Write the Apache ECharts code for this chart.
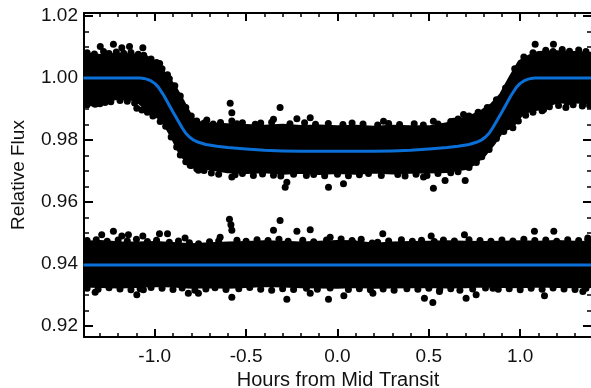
<!DOCTYPE html>
<html>
<head>
<meta charset="utf-8">
<script src="https://cdn.jsdelivr.net/npm/echarts@6/dist/echarts.min.js"></script>
<style>
  html, body { margin: 0; padding: 0; background: #fff; }
  #chart { width: 591px; height: 388px; }
</style>
</head>
<body>
<div id="chart"></div>
<script>
// transit model
var modelT = [-1.39, -1.08, -1.06, -1.04, -1.02, -1.00, -0.98, -0.95, -0.90, -0.85, -0.83, -0.81, -0.79, -0.76, -0.72, -0.66, -0.60, -0.50, -0.40, -0.30, -0.20, -0.10,
              0.00, 0.10, 0.20, 0.30, 0.40, 0.50, 0.60, 0.66, 0.72, 0.76, 0.79, 0.81, 0.83, 0.85, 0.90, 0.95, 0.98, 1.00, 1.02, 1.04, 1.06, 1.08, 1.39];
var modelFlux = [1.0000, 1.0000, 0.9999, 0.9996, 0.9991, 0.9983, 0.9971, 0.9944, 0.9891, 0.9840, 0.9822, 0.9810, 0.9801, 0.9793, 0.9786, 0.9780, 0.9776, 0.9771, 0.9767, 0.9765, 0.9764, 0.9764,
                 0.9764, 0.9764, 0.9764, 0.9765, 0.9767, 0.9771, 0.9776, 0.9780, 0.9786, 0.9793, 0.9801, 0.9810, 0.9822, 0.9840, 0.9891, 0.9944, 0.9971, 0.9983, 0.9991, 0.9996, 0.9999, 1.0000, 1.0000];

// residual model line
var residT = [-1.39, 1.39];
var residFlux = [0.9397, 0.9397];

// envelope of the dense light-curve cloud
var cloudT = [-1.39, -1.30, -1.20, -1.10, -1.05, -1.00, -0.95, -0.90, -0.85, -0.80, -0.75, -0.70, -0.60, -0.50, -0.40, -0.30, -0.20, -0.10,
              0.00, 0.10, 0.20, 0.30, 0.40, 0.50, 0.60, 0.70, 0.75, 0.80, 0.85, 0.90, 0.95, 1.00, 1.05, 1.10, 1.20, 1.30, 1.39];
var cloudHi = [1.0075, 1.0068, 1.0072, 1.0070, 1.0065, 1.0044, 1.0011, 0.9973, 0.9921, 0.9866, 0.9850, 0.9847, 0.9845, 0.9842, 0.9840, 0.9843, 0.9839, 0.9841,
               0.9838, 0.9840, 0.9837, 0.9840, 0.9838, 0.9838, 0.9848, 0.9866, 0.9877, 0.9892, 0.9912, 0.9944, 0.9998, 1.0049, 1.0066, 1.0078, 1.0080, 1.0078, 1.0075];
var cloudLo = [0.9925, 0.9930, 0.9940, 0.9935, 0.9908, 0.9887, 0.9865, 0.9814, 0.9754, 0.9728, 0.9716, 0.9712, 0.9703, 0.9700, 0.9703, 0.9698, 0.9701, 0.9697,
               0.9700, 0.9698, 0.9702, 0.9699, 0.9701, 0.9702, 0.9704, 0.9713, 0.9730, 0.9756, 0.9792, 0.9835, 0.9846, 0.9884, 0.9900, 0.9905, 0.9928, 0.9928, 0.9925];

// envelope of the dense residual cloud
var resT = [-1.39, -1.30, -1.20, -1.10, -1.00, -0.90, -0.80, -0.70, -0.60, -0.50, -0.40, -0.30, -0.20, -0.10,
            0.00, 0.10, 0.20, 0.30, 0.40, 0.50, 0.60, 0.70, 0.80, 0.90, 1.00, 1.10, 1.20, 1.30, 1.39];
var resHi = [0.9466, 0.9468, 0.9464, 0.9463, 0.9465, 0.9462, 0.9458, 0.9461, 0.9463, 0.9465, 0.9467, 0.9466, 0.9463, 0.9466,
             0.9468, 0.9467, 0.9459, 0.9463, 0.9465, 0.9466, 0.9467, 0.9466, 0.9465, 0.9466, 0.9467, 0.9466, 0.9468, 0.9466, 0.9465];
var resLo = [0.9334, 0.9333, 0.9331, 0.9333, 0.9336, 0.9334, 0.9330, 0.9332, 0.9330, 0.9333, 0.9336, 0.9334, 0.9332, 0.9331,
             0.9330, 0.9333, 0.9330, 0.9331, 0.9332, 0.9333, 0.9331, 0.9332, 0.9334, 0.9333, 0.9332, 0.9334, 0.9333, 0.9332, 0.9333];

// dots sitting on the rim of the light-curve cloud
var edgeT = [-1.37, -1.33, -1.28, -1.25, -1.21, -1.17, -1.13, -1.09, -1.06, -1.02, -0.99, -0.96, -0.92, -0.89, -0.86, -0.83, -0.80, -0.77,
             -0.73, -0.68, -0.64, -0.55, -0.52, -0.45, -0.42, -0.36, -0.26, -0.18, -0.12, -0.05, 0.03, 0.08, 0.14, 0.22, 0.28, 0.34, 0.42, 0.47, 0.55, 0.62,
             0.66, 0.72, 0.77, 0.82, 0.87, 0.92, 0.97, 1.02, 1.07, 1.14, 1.18, 1.23, 1.27, 1.32, 1.36,
             -1.37, -1.34, -1.30, -1.24, -1.19, -1.15, -1.11, -1.07, -1.04, -1.01, -0.97, -0.94, -0.91, -0.88, -0.86, -0.83, -0.80, -0.77,
             -0.73, -0.69, -0.65, -0.56, -0.52, -0.46, -0.41, -0.35, -0.31, -0.24, -0.17, -0.13, -0.07, 0.00, 0.06, 0.12, 0.17, 0.24, 0.33, 0.37, 0.43, 0.49, 0.55, 0.62, 0.66,
             0.72, 0.76, 0.79, 0.83, 0.87, 0.91, 0.96, 0.99, 1.03, 1.07, 1.12, 1.16, 1.21, 1.25, 1.29, 1.34, 1.38];
var edgeFlux = [1.0082, 1.0078, 1.0086, 1.0079, 1.0084, 1.0080, 1.0083, 1.0077, 1.0074, 1.0062, 1.0050, 1.0030, 0.9998, 0.9975, 0.9942, 0.9905, 0.9878, 0.9862,
                0.9855, 0.9852, 0.9857, 0.9853, 0.9856, 0.9851, 0.9855, 0.9858, 0.9853, 0.9856, 0.9851, 0.9854, 0.9850, 0.9855, 0.9852, 0.9849, 0.9854, 0.9850, 0.9853, 0.9849, 0.9852, 0.9860,
                0.9868, 0.9878, 0.9890, 0.9905, 0.9930, 0.9968, 1.0030, 1.0068, 1.0082, 1.0090, 1.0086, 1.0092, 1.0087, 1.0091, 1.0086,
                0.9914, 0.9920, 0.9917, 0.9924, 0.9928, 0.9925, 0.9920, 0.9897, 0.9890, 0.9878, 0.9860, 0.9845, 0.9810, 0.9778, 0.9752, 0.9730, 0.9718, 0.9708,
                0.9702, 0.9694, 0.9690, 0.9688, 0.9692, 0.9686, 0.9691, 0.9687, 0.9684, 0.9690, 0.9686, 0.9689, 0.9685, 0.9690, 0.9685, 0.9688, 0.9692, 0.9686, 0.9689, 0.9684, 0.9690, 0.9686, 0.9692, 0.9695, 0.9698,
                0.9712, 0.9728, 0.9746, 0.9770, 0.9805, 0.9828, 0.9840, 0.9862, 0.9880, 0.9890, 0.9895, 0.9908, 0.9912, 0.9905, 0.9914, 0.9910, 0.9912];

// dots sitting on the rim of the residual cloud
var resEdgeT = [-1.37, -1.32, -1.26, -1.20, -1.15, -1.10, -1.04, -0.99, -0.92, -0.87, -0.81, -0.76, -0.70, -0.65, -0.55, -0.50, -0.44, -0.38, -0.32, -0.27,
                -0.19, -0.13, -0.06, 0.02, 0.08, 0.13, 0.19, 0.22, 0.28, 0.35, 0.41, 0.46, 0.53, 0.58, 0.64, 0.72, 0.78, 0.84, 0.90, 0.96, 1.02, 1.08, 1.14, 1.20, 1.26, 1.32, 1.37,
                -1.37, -1.31, -1.25, -1.19, -1.13, -1.08, -1.02, -0.96, -0.90, -0.85, -0.78, -0.72, -0.67, -0.61, -0.54, -0.48, -0.42, -0.36, -0.30, -0.24, -0.17, -0.11, -0.04,
                0.06, 0.12, 0.18, 0.25, 0.31, 0.38, 0.44, 0.50, 0.56, 0.62, 0.67, 0.74, 0.81, 0.88, 0.94, 1.00, 1.06, 1.12, 1.18, 1.24, 1.30, 1.36];
var resEdgeFlux = [0.9476, 0.9479, 0.9474, 0.9478, 0.9475, 0.9480, 0.9473, 0.9477, 0.9471, 0.9475, 0.9469, 0.9466, 0.9472, 0.9475, 0.9477, 0.9474, 0.9479, 0.9476, 0.9480, 0.9474,
                   0.9477, 0.9472, 0.9478, 0.9481, 0.9476, 0.9480, 0.9468, 0.9471, 0.9475, 0.9479, 0.9474, 0.9477, 0.9473, 0.9478, 0.9475, 0.9479, 0.9476, 0.9474, 0.9478, 0.9475, 0.9480, 0.9476, 0.9478, 0.9474, 0.9479, 0.9476, 0.9478,
                   0.9322, 0.9319, 0.9324, 0.9320, 0.9317, 0.9321, 0.9325, 0.9322, 0.9318, 0.9323, 0.9316, 0.9320, 0.9324, 0.9318, 0.9321, 0.9325, 0.9319, 0.9316, 0.9321, 0.9318, 0.9322, 0.9319, 0.9323,
                   0.9318, 0.9321, 0.9317, 0.9320, 0.9316, 0.9321, 0.9319, 0.9322, 0.9318, 0.9321, 0.9316, 0.9320, 0.9323, 0.9319, 0.9321, 0.9317, 0.9322, 0.9319, 0.9323, 0.9320, 0.9318, 0.9322];

// isolated points outside the dense clouds
var outT = [-1.298, -1.226, -1.180, -1.138, -1.065, -0.973, -0.930, -1.326, -1.272, -1.098, -0.587, -0.578, -0.578, -0.715, -0.578, -0.806, -0.761,
            -0.314, -0.350, -0.222, -0.149, 0.252, -0.286, -0.277, -0.049, 0.033, 1.082, 1.182, 1.256, 1.128, 1.343, 0.525, 0.589, 0.699, 0.471,
            0.690, 0.525, 0.635];
var outFlux = [1.0102, 1.0109, 1.0098, 1.0102, 1.0098, 1.0047, 1.0011, 0.9916, 0.9921, 0.9903, 0.9919, 0.9888, 0.9862, 0.9865, 0.9681, 0.9719, 0.9703,
               0.9905, 0.9867, 0.9869, 0.9872, 0.9861, 0.9648, 0.9664, 0.9648, 0.9659, 1.0109, 1.0109, 0.9921, 0.9899, 0.9916, 0.9645, 0.9670, 0.9670, 0.9681,
               0.9883, 0.9861, 0.9861];

var resOutT = [-1.290, -1.226, -1.180, -1.144, -1.065, -0.974, -0.930, -0.834, -0.642, -0.591, -0.583, -0.578, -0.314, -0.350, -0.222, -0.149, -0.040,
               -1.326, -1.098, -1.062, -0.816, -0.761, -0.578, -0.277, -0.149, -0.049,
               0.248, 0.695, 1.078, 1.184, 0.513, 1.370,
               0.035, 0.476, 0.522, 0.558, 0.704, 0.759, 1.133, 1.343, 0.194, 0.851];
var resOutFlux = [0.9495, 0.9506, 0.9491, 0.9495, 0.9491, 0.9498, 0.9498, 0.9484, 0.9487, 0.9545, 0.9527, 0.9509, 0.9541, 0.9509, 0.9506, 0.9511, 0.9487,
                  0.9309, 0.9301, 0.9317, 0.9306, 0.9306, 0.9293, 0.9287, 0.9306, 0.9287,
                  0.9498, 0.9495, 0.9506, 0.9506, 0.9491, 0.9484,
                  0.9298, 0.9290, 0.9276, 0.9312, 0.9290, 0.9301, 0.9298, 0.9312, 0.9306, 0.9322];

function pairs(xs, ys) {
  return xs.map(function (x, i) { return [x, ys[i]]; });
}

function band(xs, lo, hi) {
  var rows = xs.map(function (x, i) { return [x, lo[i], hi[i]]; });
  return {
    type: 'custom',
    silent: true,
    clip: true,
    z: 1,
    data: rows,
    encode: { x: 0, y: [1, 2] },
    renderItem: function (params, api) {
      if (params.dataIndex !== 0) { return null; }
      var pts = [];
      for (var i = 0; i < rows.length; i++) { pts.push(api.coord([rows[i][0], rows[i][2]])); }
      for (var j = rows.length - 1; j >= 0; j--) { pts.push(api.coord([rows[j][0], rows[j][1]])); }
      return {
        type: 'polygon',
        shape: { points: pts },
        style: { fill: '#000', stroke: '#000', lineWidth: 6, lineJoin: 'round' }
      };
    }
  };
}

function dots(xs, ys) {
  return {
    type: 'scatter', symbol: 'circle', symbolSize: 7, z: 2, clip: true, silent: true,
    itemStyle: { color: '#000', opacity: 1 },
    data: pairs(xs, ys)
  };
}

var font = 'Liberation Sans, Arial, Helvetica, sans-serif';

function xAx(pos, labels) {
  return {
    type: 'value', position: pos, min: -1.387, max: 1.393, splitNumber: 5,
    name: labels ? 'Hours from Mid Transit' : '', nameLocation: 'middle', nameGap: 30,
    nameTextStyle: { color: '#111', fontSize: 20, fontFamily: font },
    axisLine: { show: true, onZero: false, lineStyle: { color: '#000', width: 2 } },
    axisTick: { show: true, inside: true, length: 8, lineStyle: { color: '#000', width: 2 } },
    minorTick: { show: true, splitNumber: 5, length: 4, lineStyle: { color: '#000', width: 1.5 } },
    splitLine: { show: false },
    axisLabel: { show: labels, showMinLabel: false, showMaxLabel: false, margin: 10, color: '#111', fontSize: 19, fontFamily: font,
                 formatter: function (v) { return v.toFixed(1); } }
  };
}

function yAx(pos, labels) {
  return {
    type: 'value', position: pos, min: 0.9165, max: 1.021, splitNumber: 5,
    name: labels ? 'Relative Flux' : '', nameLocation: 'middle', nameGap: 56,
    nameTextStyle: { color: '#111', fontSize: 19, fontFamily: font },
    axisLine: { show: true, onZero: false, lineStyle: { color: '#000', width: 2 } },
    axisTick: { show: true, inside: true, length: 9, lineStyle: { color: '#000', width: 2 } },
    minorTick: { show: true, splitNumber: 4, length: 5, lineStyle: { color: '#000', width: 1.5 } },
    splitLine: { show: false },
    axisLabel: { show: labels, showMinLabel: false, showMaxLabel: false, margin: 6, color: '#111', fontSize: 19, fontFamily: font,
                 formatter: function (v) { return v.toFixed(2); } }
  };
}

var chart = echarts.init(document.getElementById('chart'), null, { renderer: 'canvas' });
chart.setOption({
  animation: false,
  backgroundColor: '#fff',
  grid: { left: 84, right: -1, top: 13, bottom: 51, containLabel: false, outerBoundsMode: 'none' },
  xAxis: [xAx('bottom', true), xAx('top', false)],
  yAxis: [yAx('left', true), yAx('right', false)],
  series: [
    band(cloudT, cloudLo, cloudHi),
    band(resT, resLo, resHi),
    dots(edgeT, edgeFlux),
    dots(resEdgeT, resEdgeFlux),
    dots(outT, outFlux),
    dots(resOutT, resOutFlux),
    {
      type: 'line', showSymbol: false, z: 5,
      lineStyle: { color: '#0a6fd6', width: 3, join: 'round' },
      data: pairs(modelT, modelFlux)
    },
    {
      type: 'line', showSymbol: false, z: 5,
      lineStyle: { color: '#0a6fd6', width: 3 },
      data: pairs(residT, residFlux)
    }
  ]
});
</script>
</body>
</html>
